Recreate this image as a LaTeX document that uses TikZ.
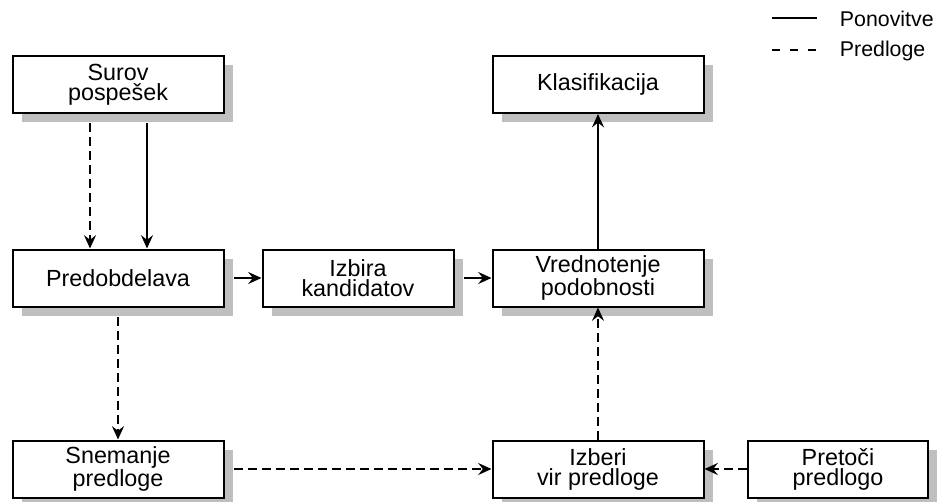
\documentclass[tikz,border=0pt]{standalone}
\usepackage{fontspec}
\setmainfont{Liberation Sans}
\usetikzlibrary{arrows.meta,shadows}

\begin{document}
\begin{tikzpicture}[x=0.75pt,y=-0.75pt,
	box/.style={draw,fill=white,line width=1.5pt,align=center,
		minimum width=158.25pt,minimum height=42.75pt,inner sep=2pt,
		font=\fontsize{17.5}{15}\selectfont,
		drop shadow={shadow xshift=6.75pt,shadow yshift=-6.75pt,fill=black!25,opacity=1}},
	flow/.style={line width=1.2pt,-{Stealth[length=10pt,width=9pt,inset=3.5pt]}},
	tmpl/.style={flow,dash pattern=on 6.5pt off 4pt},
	leg/.style={font=\fontsize{16}{19}\selectfont,anchor=base west,inner sep=2pt}]
\useasboundingbox (0,0) rectangle (948,502);
% boxes
\node[box] (raw) at (118,84.5) {Surov\\pospešek};
\node[box] (cls) at (598,84.5) {Klasifikacija};
\node[box] (prep) at (118,278) {Predobdelava};
\node[box,minimum width=143.25pt] (cand) at (358,278) {Izbira\\kandidatov};
\node[box] (sim) at (598,278) {Vrednotenje\\podobnosti};
\node[box] (rec) at (118,469) {Snemanje\\predloge};
\node[box] (src) at (598,469) {Izberi\\vir predloge};
\node[box,minimum width=135pt] (stream) at (838,469) {Pretoči\\predlogo};
% connectors
\draw[tmpl,shorten <=7pt] ([xshift=-21pt]raw.south) -- ([xshift=-21pt]prep.north);
\draw[flow,shorten <=7pt] ([xshift=21.75pt]raw.south) -- ([xshift=21.75pt]prep.north);
\draw[flow,shorten <=7pt] (prep.east) -- (cand.west);
\draw[flow,shorten <=7pt] (cand.east) -- (sim.west);
\draw[flow] (sim.north) -- (cls.south);
\draw[tmpl,shorten <=7pt] (prep.south) -- (rec.north);
\draw[tmpl,shorten <=7pt] (rec.east) -- (src.west);
\draw[tmpl] (src.north) -- (sim.south);
\draw[tmpl] (stream.west) -- (src.east);
% legend
\coordinate (solA) at (772,18);
\coordinate (solB) at (817,18);
\coordinate (dshA) at (772,50);
\coordinate (dshB) at (817,50);
\draw[line width=1.2pt] (solA) -- (solB);
\draw[line width=1.2pt,dash pattern=on 6pt off 7.5pt] (dshA) -- (dshB);
\node[leg] (solT) at (837,27) {Ponovitve};
\node[leg] (dshT) at (837,57) {Predloge};
\end{tikzpicture}
\end{document}
